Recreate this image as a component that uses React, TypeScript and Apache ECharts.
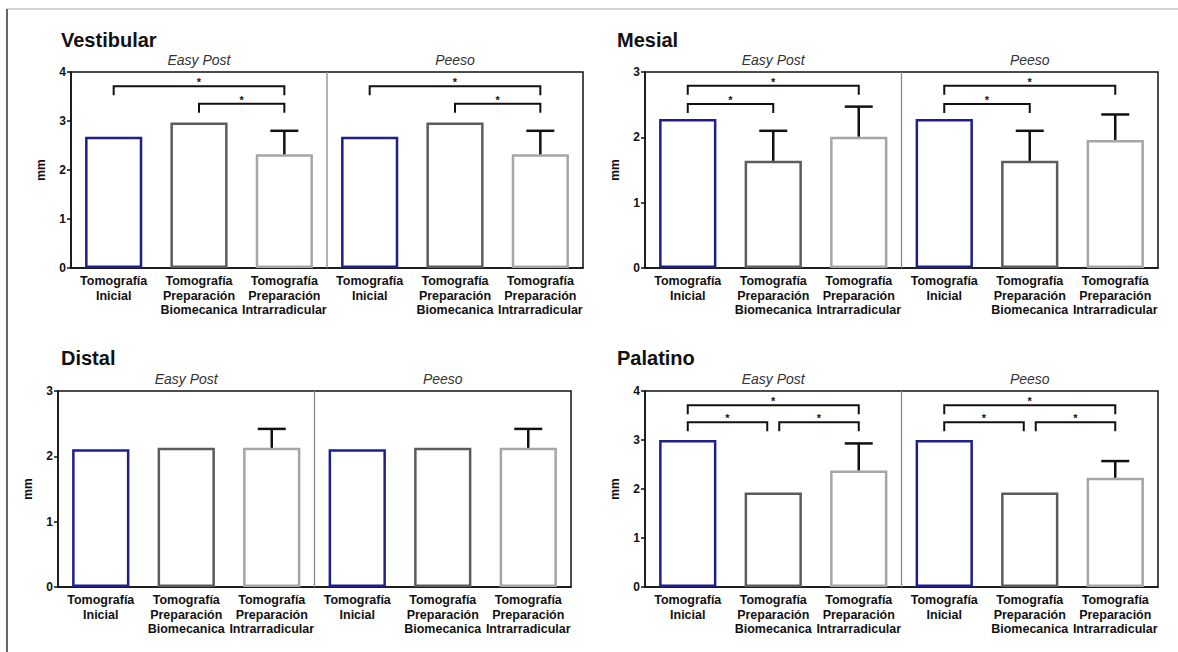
import React, { useEffect, useRef } from "react";
import * as echarts from "echarts";

const categories = [
  "Tomografía\nInicial",
  "Tomografía\nPreparación\nBiomecanica",
  "Tomografía\nPreparación\nIntrarradicular",
  "Tomografía\nInicial",
  "Tomografía\nPreparación\nBiomecanica",
  "Tomografía\nPreparación\nIntrarradicular",
];
const groupLabels = ["Easy Post", "Peeso"];
const panelTitles = ["Vestibular", "Mesial", "Distal", "Palatino"];
const yMaxes = [4, 3, 3, 4];

const vestibularMeans = [2.68, 2.97, 2.32, 2.68, 2.97, 2.32];
const vestibularUpper = [null, null, 2.8, null, null, 2.8];
const vestibularBrackets = [
  [0, 2, 3.71],
  [1, 2, 3.35],
  [3, 5, 3.71],
  [4, 5, 3.35],
];

const mesialMeans = [2.28, 1.64, 2.01, 2.28, 1.64, 1.96];
const mesialUpper = [null, 2.1, 2.47, null, 2.1, 2.35];
const mesialBrackets = [
  [0, 2, 2.79],
  [0, 1, 2.51],
  [3, 5, 2.79],
  [3, 4, 2.51],
];

const distalMeans = [2.11, 2.13, 2.13, 2.11, 2.13, 2.13];
const distalUpper = [null, null, 2.42, null, null, 2.42];
const distalBrackets: number[][] = [];

const palatinoMeans = [3.0, 1.93, 2.38, 3.0, 1.93, 2.23];
const palatinoUpper = [null, null, 2.93, null, null, 2.57];
const palatinoBrackets = [
  [0, 2, 3.71],
  [0, 1, 3.36],
  [1, 2, 3.36],
  [3, 5, 3.71],
  [3, 4, 3.36],
  [4, 5, 3.36],
];

const panels = [
  { means: vestibularMeans, upper: vestibularUpper, brackets: vestibularBrackets },
  { means: mesialMeans, upper: mesialUpper, brackets: mesialBrackets },
  { means: distalMeans, upper: distalUpper, brackets: distalBrackets },
  { means: palatinoMeans, upper: palatinoUpper, brackets: palatinoBrackets },
];

const FONT = '"Liberation Sans", Arial, Helvetica, sans-serif';
const barColors = ["#1e1e8c", "#5c5c5c", "#a6a6a6"];
const INK = "#111111";

const grids = [
  { left: 71, top: 72, width: 512, height: 196 },
  { left: 645, top: 72, width: 513, height: 196 },
  { left: 58, top: 391, width: 513, height: 196 },
  { left: 645, top: 391, width: 513, height: 196 },
];
const titlePos = [
  [61, 40],
  [617, 40],
  [61, 358],
  [617, 358],
];

function buildOption() {
  const series: any[] = [];
  panels.forEach((p, i) => {
    series.push({
      type: "bar",
      xAxisIndex: i,
      yAxisIndex: i,
      barWidth: "67%",
      data: p.means.map((v, j) => ({
        value: v,
        itemStyle: { color: "#ffffff", borderColor: barColors[j % 3], borderWidth: 2.5 },
      })),
      z: 2,
    });
    const errData = p.upper
      .map((u, j) => (u == null ? null : [j, p.means[j], u]))
      .filter((d) => d !== null);
    series.push({
      type: "custom",
      xAxisIndex: i,
      yAxisIndex: i,
      encode: { x: 0, y: [1, 2] },
      z: 5,
      data: errData,
      renderItem: (params: any, api: any) => {
        const x = api.value(0);
        const a = api.coord([x, api.value(1)]);
        const b = api.coord([x, api.value(2)]);
        return {
          type: "group",
          children: [
            {
              type: "line",
              shape: { x1: a[0], y1: a[1], x2: b[0], y2: b[1] },
              style: { stroke: INK, lineWidth: 2.5 },
            },
            {
              type: "line",
              shape: { x1: b[0] - 14, y1: b[1], x2: b[0] + 14, y2: b[1] },
              style: { stroke: INK, lineWidth: 2.5 },
            },
          ],
        };
      },
    });
    if (p.brackets.length) {
      const br = p.brackets;
      series.push({
        type: "custom",
        xAxisIndex: i,
        yAxisIndex: i,
        encode: { x: [0, 1], y: 2 },
        z: 5,
        data: br,
        renderItem: (params: any, api: any) => {
          const [from, to, v] = br[params.dataIndex];
          const a = api.coord([from, v]);
          const b = api.coord([to, v]);
          let x1 = a[0];
          let x2 = b[0];
          const y = a[1];
          if (br.some((o) => o !== br[params.dataIndex] && o[2] === v && o[1] === from)) x1 += 6;
          if (br.some((o) => o !== br[params.dataIndex] && o[2] === v && o[0] === to)) x2 -= 6;
          return {
            type: "group",
            children: [
              {
                type: "polyline",
                shape: { points: [[x1, y + 9], [x1, y], [x2, y], [x2, y + 9]] },
                style: { stroke: INK, lineWidth: 2, fill: "none" },
              },
              {
                type: "text",
                x: (x1 + x2) / 2,
                y: y - 4,
                style: {
                  text: "*",
                  fontSize: 11,
                  fontWeight: "bold",
                  fontFamily: FONT,
                  fill: INK,
                  align: "center",
                  verticalAlign: "middle",
                },
              },
            ],
          };
        },
      });
    }
    series.push({
      type: "custom",
      xAxisIndex: i,
      yAxisIndex: i,
      encode: { x: [0, 1], y: 2 },
      z: 4,
      data: [[2, 3, 0]],
      renderItem: (params: any, api: any) => {
        const cs = params.coordSys;
        const a = api.coord([2, 0]);
        const b = api.coord([3, 0]);
        const mid = (a[0] + b[0]) / 2;
        const txt = (t: string, x: number) => ({
          type: "text",
          x,
          y: cs.y - 12,
          style: {
            text: t,
            fontSize: 14,
            fontStyle: "italic",
            fontFamily: FONT,
            fill: "#333333",
            align: "center",
            verticalAlign: "middle",
          },
        });
        return {
          type: "group",
          children: [
            {
              type: "line",
              shape: { x1: mid, y1: cs.y, x2: mid, y2: cs.y + cs.height },
              style: { stroke: "#8a8a8a", lineWidth: 1.3 },
            },
            txt(groupLabels[0], (cs.x + mid) / 2),
            txt(groupLabels[1], (mid + cs.x + cs.width) / 2),
          ],
        };
      },
    });
  });

  return {
    animation: false,
    backgroundColor: "#ffffff",
    grid: grids.map((g) => ({
      ...g,
      show: true,
      borderColor: INK,
      borderWidth: 1.5,
      backgroundColor: "transparent",
      containLabel: false,
    })),
    xAxis: grids.map((_, i) => ({
      type: "category",
      gridIndex: i,
      data: categories,
      boundaryGap: true,
      axisLine: { lineStyle: { color: INK, width: 1.5 } },
      axisTick: { alignWithLabel: true, length: 4, lineStyle: { color: INK, width: 1.5 } },
      axisLabel: {
        interval: 0,
        fontFamily: FONT,
        fontWeight: "bold",
        fontSize: 12.5,
        lineHeight: 14.5,
        color: INK,
        margin: 6,
      },
    })),
    yAxis: grids.map((_, i) => ({
      type: "value",
      gridIndex: i,
      min: 0,
      max: yMaxes[i],
      interval: 1,
      splitLine: { show: false },
      axisLine: { show: true, lineStyle: { color: INK, width: 1.5 } },
      axisTick: { show: true, length: 4, lineStyle: { color: INK, width: 1.5 } },
      axisLabel: { fontFamily: FONT, fontWeight: "bold", fontSize: 12, color: INK, margin: 5 },
      name: "mm",
      nameLocation: "middle",
      nameRotate: 90,
      nameGap: 24,
      nameTextStyle: { fontFamily: FONT, fontWeight: "bold", fontSize: 12, color: INK },
    })),
    graphic: [
      { type: "line", shape: { x1: 7, y1: 9, x2: 1178, y2: 9 }, style: { stroke: "#a8a8a8", lineWidth: 1 } },
      { type: "line", shape: { x1: 7, y1: 9, x2: 7, y2: 652 }, style: { stroke: "#333333", lineWidth: 1.5 } },
      ...panelTitles.map((t, i) => ({
        type: "text",
        x: titlePos[i][0],
        y: titlePos[i][1],
        style: {
          text: t,
          fontFamily: FONT,
          fontWeight: "bold",
          fontSize: 20,
          fill: INK,
          align: "left",
          verticalAlign: "middle",
        },
      })),
    ],
    series,
  };
}

export default function App() {
  const ref = useRef<HTMLDivElement>(null);
  useEffect(() => {
    if (!ref.current) return;
    const chart = echarts.init(ref.current, undefined, { renderer: "svg" });
    chart.setOption(buildOption() as any);
    return () => chart.dispose();
  }, []);
  return (
    <div
      ref={ref}
      style={{ position: "absolute", left: 0, top: 0, width: 1178, height: 652, background: "#fff" }}
    />
  );
}
